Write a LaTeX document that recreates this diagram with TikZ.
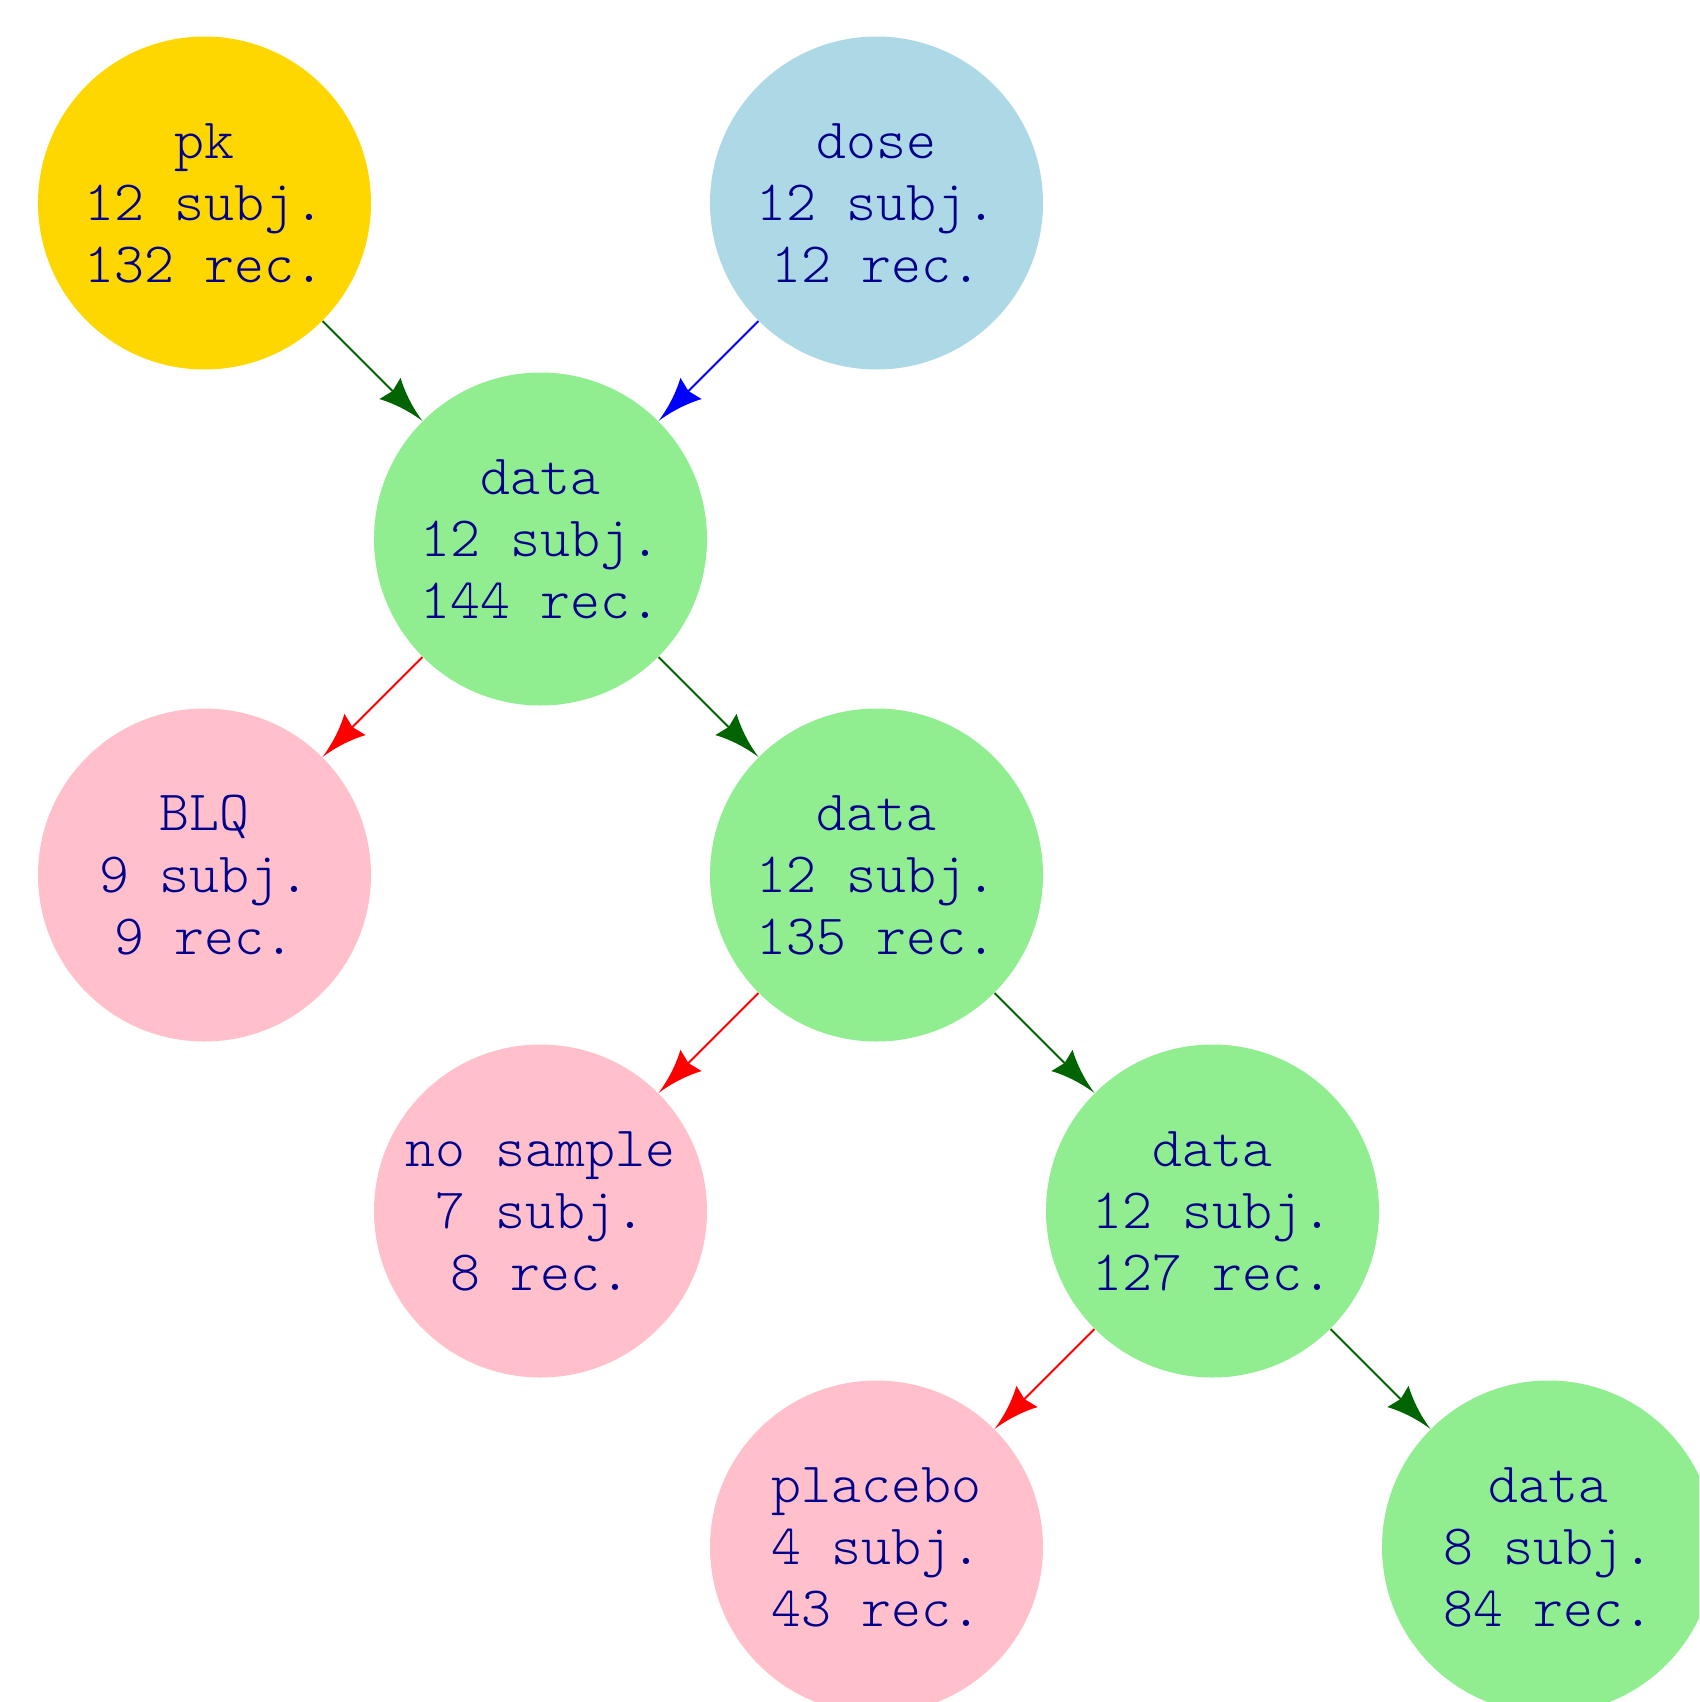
\documentclass[tikz,border=0pt]{standalone}
\usetikzlibrary{arrows.meta}
\definecolor{goldc}{HTML}{FFD700}
\definecolor{lblue}{HTML}{ADD8E6}
\definecolor{lgreen}{HTML}{90EE90}
\definecolor{pinkc}{HTML}{FFC0CB}
\definecolor{dgreen}{HTML}{006400}
\definecolor{txtblue}{HTML}{00008B}
\pgfdeclarearrow{
  name = CStealth,
  parameters = {\the\pgfarrowlength,\the\pgfarrowwidth},
  setup code = {
    \pgfarrowssettipend{0pt}
    \pgfarrowssetbackend{-\pgfarrowlength}
    \pgfarrowssetlineend{-0.8\pgfarrowlength}
    \pgfarrowssavethe\pgfarrowlength
    \pgfarrowssavethe\pgfarrowwidth
  },
  drawing code = {
    \pgfpathmoveto{\pgfpointorigin}
    \pgfpathcurveto{\pgfpoint{-0.35\pgfarrowlength}{0.08\pgfarrowwidth}}{\pgfpoint{-0.7\pgfarrowlength}{0.25\pgfarrowwidth}}{\pgfpoint{-\pgfarrowlength}{0.5\pgfarrowwidth}}
    \pgfpathlineto{\pgfpoint{-0.92\pgfarrowlength}{0pt}}
    \pgfpathlineto{\pgfpoint{-\pgfarrowlength}{-0.5\pgfarrowwidth}}
    \pgfpathcurveto{\pgfpoint{-0.7\pgfarrowlength}{-0.25\pgfarrowwidth}}{\pgfpoint{-0.35\pgfarrowlength}{-0.08\pgfarrowwidth}}{\pgfpointorigin}
    \pgfpathclose
    \pgfusepathqfill
  },
}
\tikzset{
  nd/.style={circle, minimum size=166.5pt, inner sep=0pt, align=center,
    text=txtblue, font=\ttfamily\fontseries{l}\fontsize{28.5}{31}\selectfont},
  edgeline/.style={line width=1pt, -{CStealth[length=23pt,width=15pt]}}
}
\begin{document}
\begin{tikzpicture}[x=0.5pt,y=-0.5pt]
\useasboundingbox (0,0) rectangle (1699,1702);
\clip (0,0) rectangle (1699,1702);
\node[nd, fill=goldc] (pk) at (204.5,203) {pk\\12 subj.\\132 rec.};
\node[nd, fill=lblue] (dose) at (876.5,203) {dose\\12 subj.\\12 rec.};
\node[nd, fill=lgreen] (d1) at (540.5,539) {data\\12 subj.\\144 rec.};
\node[nd, fill=pinkc] (blq) at (204.5,875) {BLQ\\9 subj.\\9 rec.};
\node[nd, fill=lgreen] (d2) at (876.5,875) {data\\12 subj.\\135 rec.};
\node[nd, fill=pinkc] (ns) at (540.5,1211) {no sample\\7 subj.\\8 rec.};
\node[nd, fill=lgreen] (d3) at (1212.5,1211) {data\\12 subj.\\127 rec.};
\node[nd, fill=pinkc] (pl) at (876.5,1547) {placebo\\4 subj.\\43 rec.};
\node[nd, fill=lgreen] (d4) at (1548.5,1547) {data\\8 subj.\\84 rec.};
\draw[edgeline, color=dgreen] (pk) -- (d1);
\draw[edgeline, color=blue] (dose) -- (d1);
\draw[edgeline, color=red] (d1) -- (blq);
\draw[edgeline, color=dgreen] (d1) -- (d2);
\draw[edgeline, color=red] (d2) -- (ns);
\draw[edgeline, color=dgreen] (d2) -- (d3);
\draw[edgeline, color=red] (d3) -- (pl);
\draw[edgeline, color=dgreen] (d3) -- (d4);
\end{tikzpicture}
\end{document}
